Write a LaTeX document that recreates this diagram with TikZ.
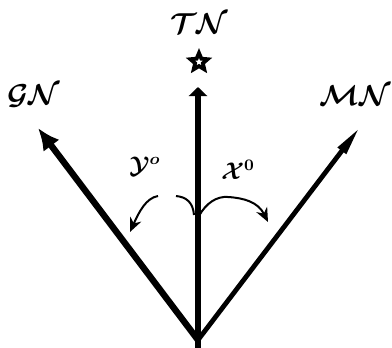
\documentclass[tikz,border=0pt]{standalone}
\usepackage{amsmath,amssymb}
\usetikzlibrary{arrows.meta,shapes.geometric}
\definecolor{Ink}{HTML}{000000}
\tikzset{
  dirlabel/.style={text=Ink,font=\fontsize{14.5}{16}\selectfont\boldmath,inner sep=0pt},
  anglabel/.style={text=Ink,font=\fontsize{11.5}{13}\selectfont\boldmath,inner sep=0pt},
  truenorth/.style={-{Triangle[length=4.5pt,width=9pt]},draw=Ink,line width=2.6pt},
  gridnorth/.style={-{Latex[length=11pt,width=10pt]},draw=Ink,line width=3.2pt},
  magnorth/.style={-{Triangle[length=15pt,width=4.8pt]},draw=Ink,line width=2.4pt},
  sweep/.style={-{Stealth[length=7pt,width=6pt]},draw=Ink,line width=1pt},
  sweepbit/.style={draw=Ink,line width=1pt}
}
\begin{document}
\begin{tikzpicture}[x=0.5pt,y=-0.5pt]
  \useasboundingbox (0,0) rectangle (392,348);
  % base and arrow tips
  \coordinate (foot) at (198,348);
  \coordinate (o) at (198,340);
  \coordinate (tntip) at (198,87);
  \coordinate (gntip) at (38,128);
  \coordinate (mntip) at (360,127);
  \draw[truenorth] (foot) -- (tntip);
  \draw[gridnorth] (o) -- (gntip);
  \draw[magnorth] (o) -- (mntip);
  % labels
  \node[star,star points=5,star point ratio=2.2,draw=Ink,fill=white,line width=1.9pt,
        inner sep=0pt,minimum size=9pt] (star) at (199,62) {};
  \node[dirlabel] (tn) at (199,24) {$\mathcal{TN}$};
  \node[dirlabel] (gn) at (34,96) {$\mathcal{GN}$};
  \node[dirlabel,anchor=east] (mn) at (391,96) {$\mathcal{MN}$};
  \node[anglabel] (ylab) at (145,166) {$\mathcal{Y}^{o}$};
  \node[anglabel] (xlab) at (238,170) {$\mathcal{X}^{0}$};
  % angle sweeps
  \coordinate (ya) at (194,215);
  \coordinate (yb) at (176,196);
  \coordinate (yc) at (158,196);
  \coordinate (yend) at (130,232);
  \coordinate (xa) at (199,216);
  \coordinate (xb) at (228,197);
  \coordinate (xend) at (268,222);
  \draw[sweepbit] (ya) .. controls (193,202) and (186,197) .. (yb);
  \draw[sweep] (yc) .. controls (146,198) and (139,212) .. (yend);
  \draw[sweep] (xa) .. controls (206,203) and (217,196) .. (xb)
    .. controls (244,198) and (258,202) .. (xend);
\end{tikzpicture}
\end{document}
